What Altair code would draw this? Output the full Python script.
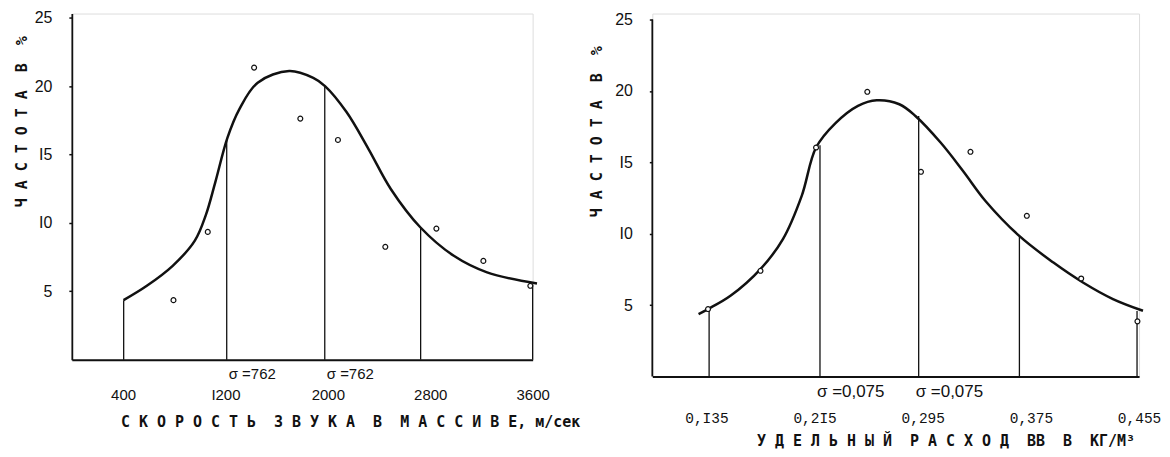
import altair as alt
import pandas as pd

INK = "#111111"
NB = "\u00a0"

# ---------------- left panel: sound velocity in the rock mass ----------------
L_curve_x = [404, 586, 788, 961, 1048, 1120, 1216, 1308, 1452, 1698, 1886, 1978,
             2146, 2319, 2493, 2724, 2984, 3244, 3634]
L_curve_y = [4.35, 5.40, 6.86, 8.7, 10.6, 12.94, 16.23, 18.3, 20.25, 21.1, 20.6,
             20.0, 18.1, 15.38, 12.46, 9.66, 7.59, 6.38, 5.57]
L_pts_x = [794, 1062, 1424, 1785, 2079, 2449, 2848, 3215, 3582]
L_pts_y = [4.35, 9.34, 21.35, 17.62, 16.06, 8.25, 9.58, 7.22, 5.40]
L_rule_x = [405, 1210, 1976, 2725, 3600]
L_rule_top = [4.35, 16.2, 20.0, 9.66, 5.5]
L_sigma_x = [1210, 1976]
L_sigma_text = ["σ =762", "σ =762"]
L_ticks = [400, 1200, 2000, 2800, 3600]
L_xtitle = "С К О Р О С Т Ь  З В У К А  В  М А С С И В Е, м/сек"

# ---------------- right panel: specific explosive consumption ----------------
R_curve_x = [0.1292, 0.1362, 0.1528, 0.175, 0.1916, 0.2055, 0.2161, 0.2305, 0.2471,
             0.261, 0.2777, 0.2896, 0.3082, 0.3248, 0.3414, 0.3664, 0.3914, 0.4135,
             0.4357, 0.4579]
R_curve_y = [4.38, 4.73, 5.66, 7.53, 9.63, 12.66, 16.04, 17.75, 18.96, 19.35, 19.07,
             18.25, 16.39, 14.4, 12.3, 9.85, 8.0, 6.59, 5.43, 4.61]
R_pts_x = [0.1362, 0.175, 0.2161, 0.254, 0.2937, 0.3303, 0.372, 0.4122, 0.4538]
R_pts_y = [4.73, 7.41, 16.04, 19.94, 14.34, 15.74, 11.26, 6.87, 3.87]
R_rule_x = [0.137, 0.219, 0.292, 0.3665, 0.4535]
R_rule_top = [4.73, 16.2, 18.25, 9.85, 4.6]
R_sigma_x = [0.219, 0.292]
R_sigma_text = ["σ =0,075", "σ =0,075"]
R_ticks = [0.135, 0.215, 0.295, 0.375, 0.455]
R_xtitle = "У Д Е Л Ь Н Ы Й  Р А С Х О Д  ВВ  В  КГ/М³"

Y_ticks = [5, 10, 15, 20, 25]
Y_title = "Ч А С Т О Т А  В  %"

TITLE_FONT = "DejaVu Sans Mono"
TITLE_SIZE = 15


def nb(s):
    return s.replace(" ", NB)


def panel(cx, cy, px, py, rx, rtop, sx, stext, xdom, ydom, w, h, xaxis, yaxis,
          sig_size, sig_dx, sig_dy, axis_rule=False):
    curve = pd.DataFrame({"x": cx, "y": cy})
    pts = pd.DataFrame({"x": px, "y": py})
    rules = pd.DataFrame({"x": rx, "top": rtop})
    sig = pd.DataFrame({"x": sx, "label": [nb(s) for s in stext]})
    xs = alt.Scale(domain=xdom, nice=False, zero=False)
    ys = alt.Scale(domain=ydom, nice=False, zero=False)

    def X():
        return alt.X("x:Q", scale=xs, axis=xaxis)

    def Y(field):
        return alt.Y(field, type="quantitative", scale=ys, axis=yaxis)

    layers = []
    if axis_rule:
        # the printed y-axis line stops at the top tick value
        ax = pd.DataFrame({"x": [xdom[0]], "top": [max(Y_ticks)]})
        layers.append(alt.Chart(ax).transform_calculate(base="0").mark_rule(
            color=INK, strokeWidth=1.8).encode(x=X(), y=Y("base"), y2=alt.Y2("top")))
    layers.append(alt.Chart(rules).transform_calculate(base="0").mark_rule(
        color=INK, strokeWidth=1.3).encode(x=X(), y=Y("base"), y2=alt.Y2("top")))
    layers.append(alt.Chart(curve).mark_line(
        color=INK, strokeWidth=2.5, interpolate="catmull-rom").encode(
        x=X(), y=Y("y")))
    layers.append(alt.Chart(pts).mark_point(
        shape="circle", size=24, fill="white", stroke=INK, strokeWidth=1.2,
        opacity=1, fillOpacity=1).encode(x=X(), y=Y("y")))
    layers.append(alt.Chart(sig).transform_calculate(base="0").mark_text(
        align="left", baseline="middle", dx=sig_dx, dy=sig_dy,
        font="Liberation Sans", fontSize=sig_size, color=INK).encode(
        x=X(), y=Y("base"), text="label:N"))
    return alt.layer(*layers).properties(width=w, height=h)


def y_axis(title_x, title_y, lab_size, show_domain=True):
    return alt.Axis(
        title=nb(Y_title), values=Y_ticks,
        labelExpr="replace(datum.label, regexp('1', 'g'), 'I')",
        labelFont="Liberation Sans", labelFontSize=lab_size, labelPadding=17,
        labelColor=INK, ticks=True, tickSize=3, tickWidth=1.5, tickColor=INK,
        domain=show_domain, domainColor=INK, domainWidth=1.8, grid=False,
        titleFont=TITLE_FONT, titleFontSize=TITLE_SIZE, titleFontWeight="bold",
        titleColor=INK, titleX=title_x, titleY=title_y, titleAlign="center",
        titleBaseline="middle", titleAngle=270)


left_xaxis = alt.Axis(
    title=nb(L_xtitle), values=L_ticks, format="d",
    labelExpr="replace(datum.label, regexp('1', 'g'), 'I')",
    labelFont="Liberation Sans", labelFontSize=15, labelPadding=35,
    labelBaseline="middle", labelFlush=False, labelOverlap=False, labelColor=INK,
    ticks=False, tickSize=0, domainColor=INK, domainWidth=2, grid=False,
    titleFont=TITLE_FONT, titleFontSize=TITLE_SIZE, titleFontWeight="bold",
    titleColor=INK, titleX=279, titleY=62, titleAlign="center",
    titleBaseline="middle")

right_xaxis = alt.Axis(
    title=nb(R_xtitle), values=R_ticks,
    labelExpr="replace(replace(format(datum.value, '.3f'), '.', ','), regexp('1', 'g'), 'I')",
    labelFont="Liberation Mono", labelFontSize=14.5, labelPadding=42,
    labelBaseline="middle", labelFlush=False, labelOverlap=False, labelColor=INK,
    ticks=False, tickSize=0, domainColor=INK, domainWidth=2, grid=False,
    titleFont=TITLE_FONT, titleFontSize=TITLE_SIZE, titleFontWeight="bold",
    titleColor=INK, titleX=294, titleY=64, titleAlign="center",
    titleBaseline="middle")

left = panel(L_curve_x, L_curve_y, L_pts_x, L_pts_y, L_rule_x, L_rule_top,
             L_sigma_x, L_sigma_text, [0, 3600], [0, 25.3], 462, 347,
             left_xaxis, y_axis(-50, 108, 16), 15, 2, 14)

right = panel(R_curve_x, R_curve_y, R_pts_x, R_pts_y, R_rule_x, R_rule_top,
              R_sigma_x, R_sigma_text, [0.095, 0.455], [0, 25.42], 488, 364,
              right_xaxis, y_axis(-56, 118, 16, show_domain=False), 17, -3, 15,
              axis_rule=True)

chart = alt.hconcat(left, right, spacing=8).properties(
    padding={"left": 6, "top": 0, "right": 0, "bottom": 0}
).configure_view(stroke="transparent").configure(background="white")

chart.save("out.html", embed_options={"renderer": "svg", "actions": False})
